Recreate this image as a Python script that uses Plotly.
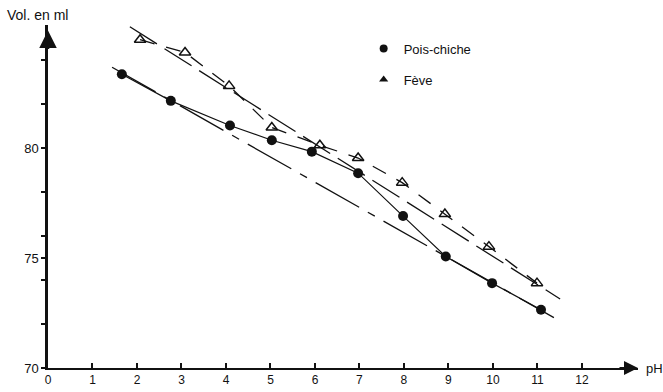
import plotly.graph_objects as go

# --- data ---
ph_pois = [1.66, 2.76, 4.09, 5.03, 5.93, 6.97, 7.98, 8.94, 9.98, 11.08]
vol_pois = [83.36, 82.15, 81.03, 80.36, 79.84, 78.86, 76.91, 75.07, 73.86, 72.65]

ph_feve = [2.07, 3.08, 4.07, 5.03, 6.11, 6.97, 7.96, 8.92, 9.91, 10.99]
vol_feve = [84.93, 84.35, 82.83, 80.94, 80.13, 79.55, 78.43, 77.0, 75.52, 73.86]

# straight fitted lines (end points)
fit_pois_ph = [1.44, 11.37]
fit_pois_vol = [83.68, 72.29]
fit_feve_ph = [1.84, 11.51]
fit_feve_vol = [85.52, 73.14]

x_ticks = list(range(0, 13))
y_ticks = [70, 72, 74, 75, 76, 78, 80, 82, 84]
y_ticktext = ["70", "", "", "75", "", "", "80", "", ""]

legend_names = ["Pois-chiche", "Fève"]

FONT = "Liberation Sans, Arial, sans-serif"
INK = "#111111"

fig = go.Figure()

# Pois-chiche fitted line (dash-dot)
fig.add_trace(go.Scatter(x=fit_pois_ph, y=fit_pois_vol, mode="lines",
                         line=dict(color=INK, width=1.3, dash="50px,10px,8px,10px"),
                         showlegend=False, hoverinfo="skip"))
# Fève fitted line (long dashes)
fig.add_trace(go.Scatter(x=fit_feve_ph, y=fit_feve_vol, mode="lines",
                         line=dict(color=INK, width=1.3, dash="32px,9px"),
                         showlegend=False, hoverinfo="skip"))
# Fève measured curve (dashed, open triangles)
fig.add_trace(go.Scatter(x=ph_feve, y=vol_feve, mode="lines+markers",
                         line=dict(color=INK, width=1.3, dash="15px,12px"),
                         marker=dict(symbol="triangle-up-open", size=10, color=INK,
                                     line=dict(width=1.5, color=INK)),
                         showlegend=False))
# Pois-chiche measured curve (solid, filled circles)
fig.add_trace(go.Scatter(x=ph_pois, y=vol_pois, mode="lines+markers",
                         line=dict(color=INK, width=1.2),
                         marker=dict(symbol="circle", size=10, color=INK),
                         showlegend=False))

# legend-only entries
fig.add_trace(go.Scatter(x=[None], y=[None], mode="markers", name=legend_names[0],
                         marker=dict(symbol="circle", size=8, color=INK),
                         legendgroup="a"))
fig.add_trace(go.Scatter(x=[None], y=[None], mode="markers", name=legend_names[1],
                         marker=dict(symbol="triangle-up", size=8, color=INK),
                         legendgroup="b"))

fig.update_layout(
    width=663, height=392,
    margin=dict(l=48, r=25, t=25, b=24, autoexpand=False),
    paper_bgcolor="white", plot_bgcolor="white",
    font=dict(family=FONT, size=13, color=INK),
    showlegend=True,
    legend=dict(x=0.535, y=0.975, xanchor="left", yanchor="top",
                bgcolor="rgba(0,0,0,0)", borderwidth=0,
                tracegroupgap=11, font=dict(size=13, family=FONT, color=INK)),
    xaxis=dict(range=[0, 13.26], tickvals=x_ticks, ticks="inside", ticklen=5,
               tickwidth=1.5, tickcolor=INK, showline=True, linewidth=2,
               linecolor=INK, showgrid=False, zeroline=False, automargin=False,
               tickfont=dict(size=12, family=FONT, color=INK)),
    yaxis=dict(range=[70, 85.6], tickvals=y_ticks, ticktext=y_ticktext,
               ticks="outside", ticklen=4, tickwidth=1.5, tickcolor=INK,
               showline=True, linewidth=2.5, linecolor=INK, showgrid=False,
               zeroline=False, automargin=False,
               tickfont=dict(size=13, family=FONT, color=INK)),
)

# arrowheads on the axes
fig.add_annotation(x=13.26, y=70, xref="x", yref="y", ax=-20, ay=0,
                   showarrow=True, arrowhead=2, arrowsize=1.4, arrowwidth=2,
                   arrowcolor=INK, text="")
fig.add_annotation(x=0, y=85.35, xref="x", yref="y", ax=0, ay=20,
                   showarrow=True, arrowhead=2, arrowsize=1.4, arrowwidth=2.5,
                   arrowcolor=INK, text="")

# axis titles
fig.add_annotation(x=1, y=0, xref="paper", yref="paper", xanchor="left",
                   yanchor="middle", xshift=6, text="pH", showarrow=False,
                   font=dict(size=13, family=FONT, color=INK))
fig.add_annotation(x=0, y=1, xref="paper", yref="paper", xanchor="left",
                   yanchor="middle", xshift=-43, yshift=10, text="Vol. en ml",
                   showarrow=False, font=dict(size=14, family=FONT, color=INK))

fig.write_html("out.html")
